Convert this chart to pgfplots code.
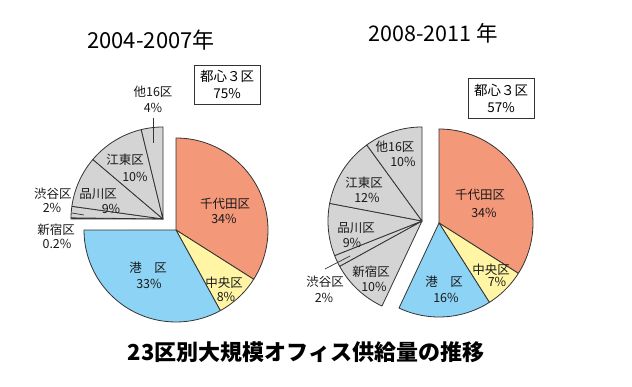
\documentclass[border=0pt]{standalone}
\usepackage{pgfplots}
\pgfplotsset{compat=1.18}
\usepackage{fontspec}
\setmainfont{Noto Sans CJK JP}
\definecolor{chiyoda}{HTML}{F4987A}
\definecolor{chuo}{HTML}{FFF5A5}
\definecolor{minato}{HTML}{8DD3F5}
\definecolor{other}{HTML}{D4D4D4}
\definecolor{edge}{HTML}{333333}
% \slice{cx}{cy}{r}{cumulative % start}{cumulative % end}{colour}
\newcommand\slice[6]{%
  \addplot[draw=edge, line width=0.8pt, line join=round, fill=#6, mark=none,
    domain=0:1, samples=60, variable=\t]
    ({#1+#3*cos(90-3.6*(#4+(#5-#4)*\t))},{#2+#3*sin(90-3.6*(#4+(#5-#4)*\t))})
    -- (#1,#2) -- cycle;}
\tikzset{lab/.style={font=\fontsize{12.5}{14}\selectfont, inner sep=0pt, text=black!90}}
\begin{document}
\begin{tikzpicture}
\begin{axis}[width=632pt, height=387pt, scale only axis,
  xmin=0, xmax=632, ymin=0, ymax=387, hide axis, clip=false]
\path (0,0) rectangle (632,387);
% ---- 2004-2007 (percentages: 34, 8, 33 | 0.2, 2, 9, 10, 4)
\slice{176}{157}{92}{0}{34}{chiyoda}
\slice{176}{157}{92}{34}{42}{chuo}
\slice{176}{157}{92}{42}{75}{minato}
\slice{163}{168}{92}{75}{75.2}{other}
\slice{163}{168}{92}{75.2}{77.2}{other}
\slice{163}{168}{92}{77.2}{86.2}{other}
\slice{163}{168}{92}{86.2}{96.2}{other}
\slice{163}{168}{92}{96.2}{100}{other}
% ---- 2008-2011 (percentages: 34, 7, 16 | 10, 2, 9, 12, 10)
\slice{439}{164}{94}{0}{34}{chiyoda}
\slice{439}{164}{94}{34}{41}{chuo}
\slice{439}{164}{94}{41}{57}{minato}
\slice{422}{166}{94}{57}{67}{other}
\slice{422}{166}{94}{67}{69}{other}
\slice{422}{166}{94}{69}{78}{other}
\slice{422}{166}{94}{78}{90}{other}
\slice{422}{166}{94}{90}{100}{other}
% titles
\node[font=\fontsize{22}{24}\selectfont] at (151,347) {2004-2007年};
\node[font=\fontsize{21.5}{24}\selectfont] at (433,354) {2008-2011 年};
\node[font=\bfseries\fontsize{22}{24}\selectfont] at (306,35) {23区別大規模オフィス供給量の推移};
% boxes
\node[draw=edge, line width=0.8pt, minimum width=66pt, minimum height=39pt, align=center,
  font=\fontsize{13.5}{17}\selectfont, inner sep=1pt] at (227,302.5) {都心３区\\75\%};
\node[draw=edge, line width=0.8pt, minimum width=66pt, minimum height=40pt, align=center,
  font=\fontsize{13.5}{17}\selectfont, inner sep=1pt] at (501,289) {都心３区\\57\%};
% left labels
\node[lab] at (153,295) {他16区}; \node[lab] at (153,279) {4\%};
\draw[edge, line width=0.7pt] (153,269) -- (153,244);
\node[lab] at (125,227) {江東区}; \node[lab] at (135,210) {10\%};
\node[lab] at (53,193) {渋谷区}; \node[lab] at (52,179) {2\%};
\draw[edge, line width=0.7pt] (72,174) -- (84,172);
\node[lab] at (98,193) {品川区}; \node[lab] at (111,178) {9\%};
\node[lab] at (56,157) {新宿区}; \node[lab] at (57,143) {0.2\%};
\node[lab] at (225,183) {千代田区}; \node[lab] at (224,168) {34\%};
\node[lab] at (148,119) {港\quad 区}; \node[lab] at (149,103) {33\%};
\node[lab] at (224,104) {中央区}; \node[lab] at (226,90) {8\%};
% right labels
\node[lab] at (395,240) {他16区}; \node[lab] at (403,225) {10\%};
\node[lab] at (364,204) {江東区}; \node[lab] at (367,189) {12\%};
\node[lab] at (356,159) {品川区}; \node[lab] at (352,144) {9\%};
\node[lab] at (371,115) {新宿区}; \node[lab] at (374,100) {10\%};
\node[lab] at (325,105) {渋谷区}; \node[lab] at (324,89) {2\%};
\draw[edge, line width=0.7pt] (325,118) -- (350,131);
\node[lab] at (480,192) {千代田区}; \node[lab] at (484,174) {34\%};
\node[lab] at (444,105) {港\quad 区}; \node[lab] at (446,89) {16\%};
\node[lab] at (491,117) {中央区}; \node[lab] at (497,105) {7\%};
\end{axis}
\end{tikzpicture}
\end{document}
